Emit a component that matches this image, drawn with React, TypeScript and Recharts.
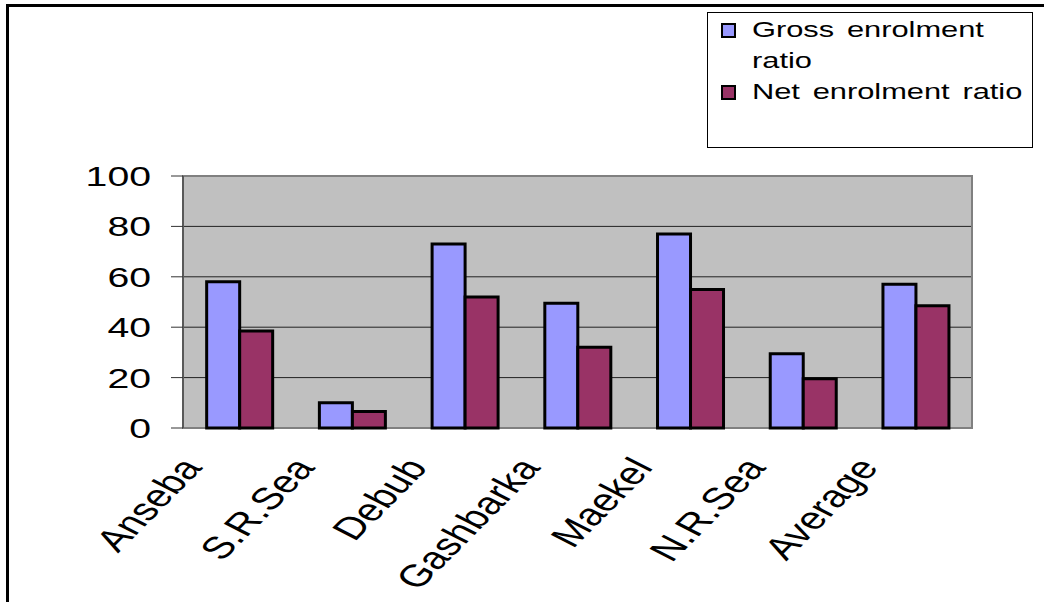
import { BarChart, Bar, XAxis, YAxis, CartesianGrid, ReferenceArea, Legend } from "recharts";

const regions = ["Anseba", "S.R.Sea", "Debub", "Gashbarka", "Maekel", "N.R.Sea", "Average"];
const grossRatio = [58, 10, 73, 49.5, 77, 29.5, 57];
const netRatio = [38.5, 6.5, 52, 32, 55, 19.5, 48.5];
const yTicks = [0, 20, 40, 60, 80, 100];
const edgeTicks = [0, 1, 2, 3, 4, 5, 6, 7];

const chartData = regions.map((name, i) => ({
  name,
  gross: grossRatio[i],
  net: netRatio[i],
}));

const FONT = "'Liberation Sans', Arial, sans-serif";
// old spreadsheet look: glyphs are drawn wide
const STRETCH = 1.4;

const YTick = ({ x, y, payload }: any) => (
  <text
    transform={`translate(${x},${y}) scale(${STRETCH},1)`}
    textAnchor="end"
    dy="0.36em"
    fontSize={28}
    fontFamily={FONT}
    fill="#000"
  >
    {payload.value}
  </text>
);

const XTick = ({ x, y, payload }: any) => (
  <text
    transform={`translate(${x - 36},${y}) scale(${STRETCH},1) rotate(-54.5)`}
    textAnchor="end"
    fontSize={31}
    fontFamily={FONT}
    fill="#000"
  >
    {payload.value}
  </text>
);

const NoTick = () => <g />;

const LegendBox = ({ payload }: any) => (
  <div
    style={{
      width: 326,
      height: 136,
      boxSizing: "border-box",
      border: "1px solid #000",
      background: "#fff",
      padding: "1px 0 0 13px",
      fontFamily: FONT,
      fontSize: 22,
      lineHeight: "31px",
      wordSpacing: 3,
      color: "#000",
    }}
  >
    {(payload || []).map((item: any) => (
      <div key={item.value} style={{ display: "flex", alignItems: "flex-start" }}>
        <span
          style={{
            display: "inline-block",
            width: 15,
            height: 15,
            marginTop: 9,
            boxSizing: "border-box",
            border: "2px solid #000",
            background: item.color,
            flex: "none",
          }}
        />
        <span
          style={{
            display: "inline-block",
            width: 200,
            marginLeft: 16,
            transform: `scaleX(${STRETCH})`,
            transformOrigin: "0 0",
          }}
        >
          {item.value}
        </span>
      </div>
    ))}
  </div>
);

export default function App() {
  return (
    <div style={{ position: "absolute", left: 0, top: 0, width: 1044, height: 602, background: "#fff", overflow: "hidden" }}>
      <div
        style={{
          position: "absolute",
          left: 6,
          top: 4,
          width: 1100,
          height: 700,
          borderTop: "3px solid #000",
          borderLeft: "3px solid #000",
        }}
      />
      <div style={{ position: "absolute", left: 0, top: 0 }}>
        <BarChart
          width={1044}
          height={602}
          data={chartData}
          margin={{ top: 176, right: 72, left: 63, bottom: 24 }}
          barGap={0}
          barCategoryGap="21%"
        >
          <CartesianGrid xAxisId="cat" vertical={false} fill="#C0C0C0" fillOpacity={1} stroke="#222" />
          <ReferenceArea xAxisId="cat" y1={0} y2={100} fill="none" stroke="#808080" strokeWidth={2} />
          <XAxis
            xAxisId="edge"
            type="number"
            domain={[0, 7]}
            ticks={edgeTicks}
            allowDataOverflow
            height={0}
            tick={NoTick}
            tickSize={9}
            axisLine={{ stroke: "#333" }}
            tickLine={{ stroke: "#333" }}
          />
          <XAxis
            xAxisId="cat"
            dataKey="name"
            height={150}
            interval={0}
            axisLine={false}
            tickLine={false}
            tickSize={0}
            tickMargin={40}
            tick={XTick}
          />
          <YAxis
            width={120}
            domain={[0, 100]}
            ticks={yTicks}
            interval={0}
            tickSize={12}
            tickMargin={20}
            axisLine={{ stroke: "#333" }}
            tickLine={{ stroke: "#333" }}
            tick={YTick}
          />
          <Legend
            layout="vertical"
            align="center"
            verticalAlign="middle"
            wrapperStyle={{ left: 707, top: 12, width: 326, height: 136 }}
            content={LegendBox}
          />
          <Bar xAxisId="cat" dataKey="gross" name="Gross enrolment ratio" fill="#9999FF" stroke="#000" strokeWidth={3} isAnimationActive={false} />
          <Bar xAxisId="cat" dataKey="net" name="Net enrolment ratio" fill="#993366" stroke="#000" strokeWidth={3} isAnimationActive={false} />
        </BarChart>
      </div>
    </div>
  );
}
